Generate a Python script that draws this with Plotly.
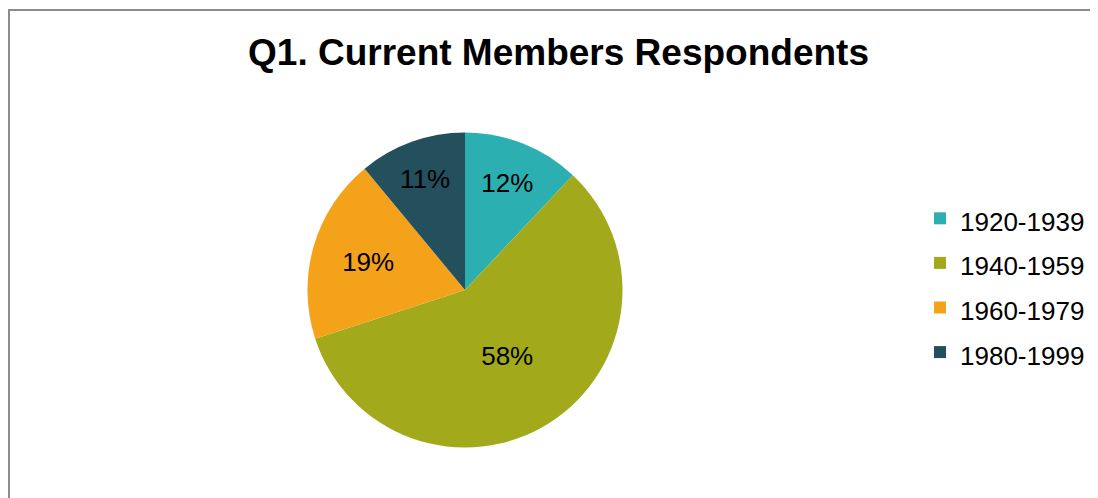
import plotly.graph_objects as go

labels = ["1920-1939", "1940-1959", "1960-1979", "1980-1999"]
values = [12, 58, 19, 11]
colors = ["#2CAFB0", "#A2AA1C", "#F3A21A", "#244F5D"]

W, H = 1098, 498
OFF = 8  # default page body margin


def px(x):
    return (x - OFF) / W


def py(y):
    return 1 - (y - OFF) / H


legend_labels = ['<span style="font-size:26px">%s</span>' % s for s in labels]

fig = go.Figure()
fig.add_trace(go.Pie(
    labels=legend_labels,
    values=values,
    sort=False,
    direction="clockwise",
    rotation=0,
    marker=dict(colors=colors, line=dict(width=0)),
    textinfo="percent",
    texttemplate="%{percent:.0%}",
    textposition="inside",
    insidetextorientation="horizontal",
    textfont=dict(family="Liberation Sans, Arial", size=26, color="#000000"),
    domain=dict(x=[px(307.5), px(622.5)], y=[py(447.5), py(132.5)]),
    showlegend=True,
))

fig.update_layout(
    width=W, height=H,
    margin=dict(l=0, r=0, t=0, b=0),
    paper_bgcolor="white",
    plot_bgcolor="white",
    font=dict(family="Liberation Sans, Arial", color="#000000"),
    uniformtext=dict(mode="show", minsize=26),
    title=dict(
        text="<b>Q1. Current Members Respondents</b>",
        x=px(558.5), xanchor="center",
        y=py(52), yanchor="middle",
        font=dict(size=37, color="#000000", family="Liberation Sans, Arial"),
    ),
    legend=dict(
        x=px(920), xanchor="left",
        y=py(191), yanchor="top",
        font=dict(size=32, color="#000000"),
        itemwidth=30,
        tracegroupgap=0,
    ),
    shapes=[dict(
        type="rect", xref="paper", yref="paper",
        x0=1 / W, x1=1.2, y0=-0.05, y1=1 - 2 / H,
        line=dict(color="#8C8C8C", width=2),
        fillcolor="rgba(0,0,0,0)",
    )],
)

fig.write_html("out.html")
